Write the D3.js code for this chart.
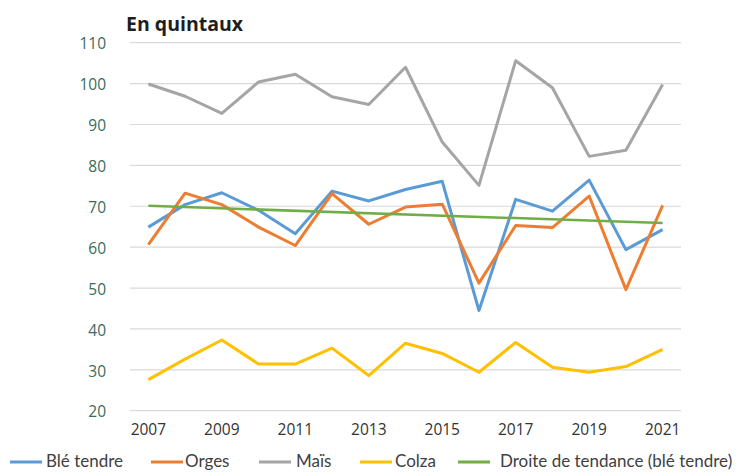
<!DOCTYPE html>
<html>
<head>
<meta charset="utf-8">
<script src="https://cdn.jsdelivr.net/npm/d3@7"></script>
<style>
  html, body { margin: 0; padding: 0; background: #fff; }
  svg { display: block; }
</style>
</head>
<body>
<svg id="chart" width="745" height="472"></svg>
<script>
const years = [2007, 2008, 2009, 2010, 2011, 2012, 2013, 2014, 2015, 2016, 2017, 2018, 2019, 2020, 2021];
const bleTendre = [64.9, 70.4, 73.3, 69.0, 63.3, 73.7, 71.3, 74.1, 76.1, 44.5, 71.7, 68.8, 76.4, 59.4, 64.3];
const orges     = [60.6, 73.2, 70.4, 64.9, 60.4, 73.1, 65.6, 69.8, 70.5, 51.2, 65.3, 64.8, 72.5, 49.6, 70.2];
const mais      = [99.9, 96.9, 92.7, 100.4, 102.3, 96.8, 94.9, 104.0, 85.7, 75.1, 105.6, 99.0, 82.2, 83.7, 99.8];
const colza     = [27.6, 32.6, 37.3, 31.4, 31.4, 35.3, 28.6, 36.5, 34.0, 29.4, 36.7, 30.6, 29.4, 30.8, 35.0];
const trendYears = [2007, 2021];
const trendValues = [70.1, 65.9];
const yTicks = [20, 30, 40, 50, 60, 70, 80, 90, 100, 110];
const xTickLabels = [2007, 2009, 2011, 2013, 2015, 2017, 2019, 2021];
const seriesNames = ["Blé tendre", "Orges", "Maïs", "Colza", "Droite de tendance (blé tendre)"];
const chartTitle = "En quintaux";

const colors = ["#5B9BD5", "#ED7D31", "#A5A5A5", "#FFC000", "#70AD47"];

const svg = d3.select("#chart");
const pLeft = 130, pRight = 681, pTop = 42.7, pBottom = 410.7;

const x = d3.scaleBand().domain(years).range([pLeft, pRight]);
const xc = v => x(v) + x.bandwidth() / 2;
const y = d3.scaleLinear().domain([20, 110]).range([pBottom, pTop]);

// gridlines
svg.append("g")
  .selectAll("line")
  .data(yTicks)
  .join("line")
  .attr("x1", pLeft).attr("x2", pRight)
  .attr("y1", d => y(d)).attr("y2", d => y(d))
  .attr("stroke", "#d9d9d9").attr("stroke-width", 1.2);

// y axis labels
const yAxis = d3.axisLeft(y).tickValues(yTicks).tickSize(0).tickPadding(0);
const yg = svg.append("g").attr("transform", "translate(106,0)").call(yAxis);
yg.select(".domain").remove();
yg.selectAll("text")
  .attr("font-family", "'Open Sans', 'Noto Sans', sans-serif")
  .attr("font-size", 15.5)
  .attr("fill", "#3b6b5c")
  .attr("dy", "0.4em");

// x axis labels
const xAxis = d3.axisBottom(x).tickValues(xTickLabels).tickSize(0).tickPadding(0);
const xg = svg.append("g").attr("transform", `translate(0,${pBottom})`).call(xAxis);
xg.select(".domain").remove();
xg.selectAll("text")
  .attr("font-family", "'Open Sans', 'Noto Sans', sans-serif")
  .attr("font-size", 15.5)
  .attr("fill", "#333333")
  .attr("dy", "1.6em");

// lines
const line = d3.line().x((d, i) => xc(years[i])).y(d => y(d));
const data = [bleTendre, orges, mais, colza];
data.forEach((s, i) => {
  svg.append("path")
    .datum(s)
    .attr("d", line)
    .attr("fill", "none")
    .attr("stroke", colors[i])
    .attr("stroke-width", 3)
    .attr("stroke-linejoin", "round");
});
// trend line
const tline = d3.line().x((d, i) => xc(trendYears[i])).y(d => y(d));
svg.append("path")
  .datum(trendValues)
  .attr("d", tline)
  .attr("fill", "none")
  .attr("stroke", colors[4])
  .attr("stroke-width", 2.5);

// title
svg.append("text")
  .attr("x", 126).attr("y", 31)
  .attr("font-family", "'Open Sans', 'Noto Sans', sans-serif")
  .attr("font-weight", 700)
  .attr("font-size", 19.5)
  .attr("fill", "#1e1e1e")
  .text(chartTitle);

// legend
const legendX = [10, 151, 259, 360, 458];
const legendTextX = [46, 185, 296, 395, 500];
const lg = svg.append("g");
seriesNames.forEach((n, i) => {
  lg.append("line")
    .attr("x1", legendX[i]).attr("x2", legendX[i] + 32)
    .attr("y1", 462).attr("y2", 462)
    .attr("stroke", colors[i]).attr("stroke-width", 3);
  lg.append("text")
    .attr("x", legendTextX[i]).attr("y", 467)
    .attr("font-family", "Lato, 'Open Sans', sans-serif")
    .attr("font-size", 17)
    .attr("fill", "#404040")
    .text(n);
});
</script>
</body>
</html>
